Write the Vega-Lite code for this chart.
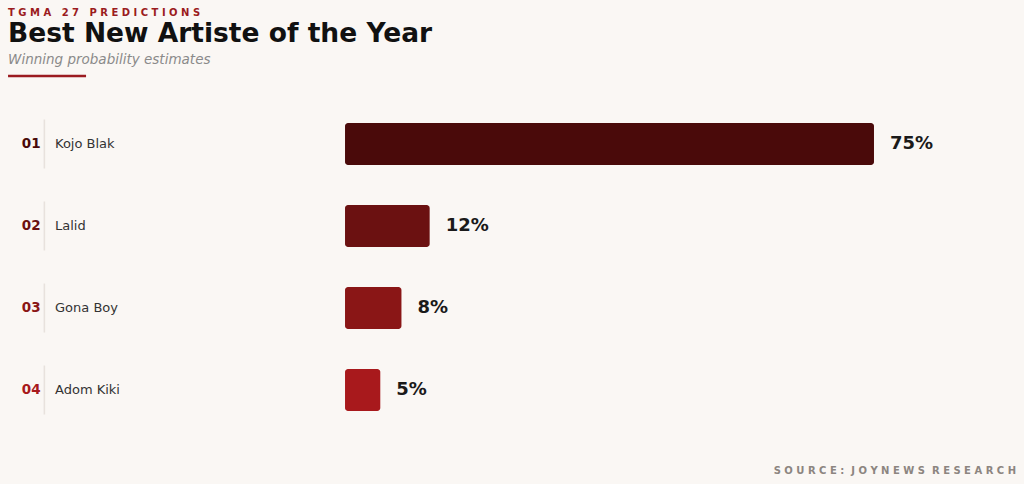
{
  "$schema": "https://vega.github.io/schema/vega-lite/v6.json",
  "width": 1024,
  "height": 484,
  "autosize": {"type": "none"},
  "padding": 0,
  "background": "#faf7f4",
  "config": {
    "view": {"stroke": null},
    "font": "DejaVu Sans",
    "text": {"font": "DejaVu Sans"}
  },
  "data": {
    "values": [
      {"rank": 1, "code": "01", "name": "Kojo Blak", "share": 0.75},
      {"rank": 2, "code": "02", "name": "Lalid", "share": 0.12},
      {"rank": 3, "code": "03", "name": "Gona Boy", "share": 0.08},
      {"rank": 4, "code": "04", "name": "Adom Kiki", "share": 0.05}
    ]
  },
  "layer": [
    {
      "mark": {"type": "bar", "height": 42, "cornerRadius": 3},
      "encoding": {
        "y": {
          "field": "rank",
          "type": "quantitative",
          "scale": {"domain": [-0.756, 5.146], "reverse": true, "zero": false, "nice": false, "padding": 0},
          "axis": null
        },
        "x": {
          "field": "share",
          "type": "quantitative",
          "scale": {"domain": [-0.4892, 0.9627], "zero": false, "nice": false, "padding": 0},
          "axis": null
        },
        "x2": {"datum": 0},
        "color": {
          "field": "code",
          "type": "nominal",
          "scale": {"domain": ["01", "02", "03", "04"], "range": ["#4a0a0a", "#6b1111", "#8a1616", "#a8191c"]},
          "legend": null
        }
      }
    },
    {
      "mark": {"type": "text", "align": "left", "baseline": "middle", "dx": 16, "fontSize": 18, "fontWeight": "bold", "fill": "#1a1a1a"},
      "encoding": {
        "y": {"field": "rank", "type": "quantitative"},
        "x": {"field": "share", "type": "quantitative"},
        "text": {"field": "share", "type": "quantitative", "format": ".0%"}
      }
    },
    {
      "mark": {"type": "text", "align": "right", "baseline": "middle", "fontSize": 13.5, "fontWeight": "bold"},
      "encoding": {
        "y": {"field": "rank", "type": "quantitative"},
        "x": {"datum": -0.4317},
        "text": {"field": "code"},
        "color": {"field": "code", "type": "nominal", "legend": null}
      }
    },
    {
      "mark": {"type": "tick", "orient": "vertical", "size": 49, "thickness": 1.5, "color": "#e0d8d3"},
      "encoding": {
        "y": {"field": "rank", "type": "quantitative"},
        "x": {"datum": -0.4263}
      }
    },
    {
      "mark": {"type": "text", "align": "left", "baseline": "middle", "fontSize": 13, "fill": "#333333"},
      "encoding": {
        "y": {"field": "rank", "type": "quantitative"},
        "x": {"datum": -0.4112},
        "text": {"field": "name"}
      }
    },
    {
      "data": {"values": [{"label": "T G M A\u00a0\u00a0 2 7\u00a0\u00a0 P R E D I C T I O N S"}]},
      "mark": {"type": "text", "align": "left", "baseline": "alphabetic", "fontSize": 10, "fontWeight": "bold", "fill": "#9b1b20"},
      "encoding": {
        "x": {"datum": -0.4778},
        "y": {"datum": -0.561},
        "text": {"field": "label"}
      }
    },
    {
      "data": {"values": [{"label": "Best New Artiste of the Year"}]},
      "mark": {"type": "text", "align": "left", "baseline": "alphabetic", "fontSize": 26.5, "fontWeight": "bold", "fill": "#111111"},
      "encoding": {
        "x": {"datum": -0.4778},
        "y": {"datum": -0.244},
        "text": {"field": "label"}
      }
    },
    {
      "data": {"values": [{"label": "Winning probability estimates"}]},
      "mark": {"type": "text", "align": "left", "baseline": "alphabetic", "fontSize": 13.5, "fontStyle": "italic", "fill": "#8a8a8a"},
      "encoding": {
        "x": {"datum": -0.4778},
        "y": {"datum": 0.024},
        "text": {"field": "label"}
      }
    },
    {
      "data": {"values": [{"line": "accent"}]},
      "mark": {"type": "rule", "strokeWidth": 2.5, "color": "#9b1b20"},
      "encoding": {
        "x": {"datum": -0.4778},
        "x2": {"datum": -0.3672},
        "y": {"datum": 0.171}
      }
    },
    {
      "data": {"values": [{"label": "S O U R C E :\u00a0 J O Y N E W S\u00a0 R E S E A R C H"}]},
      "mark": {"type": "text", "align": "right", "baseline": "alphabetic", "fontSize": 10, "fontWeight": "bold", "fill": "#8c8580"},
      "encoding": {
        "x": {"datum": 0.9514},
        "y": {"datum": 5.024},
        "text": {"field": "label"}
      }
    }
  ]
}
